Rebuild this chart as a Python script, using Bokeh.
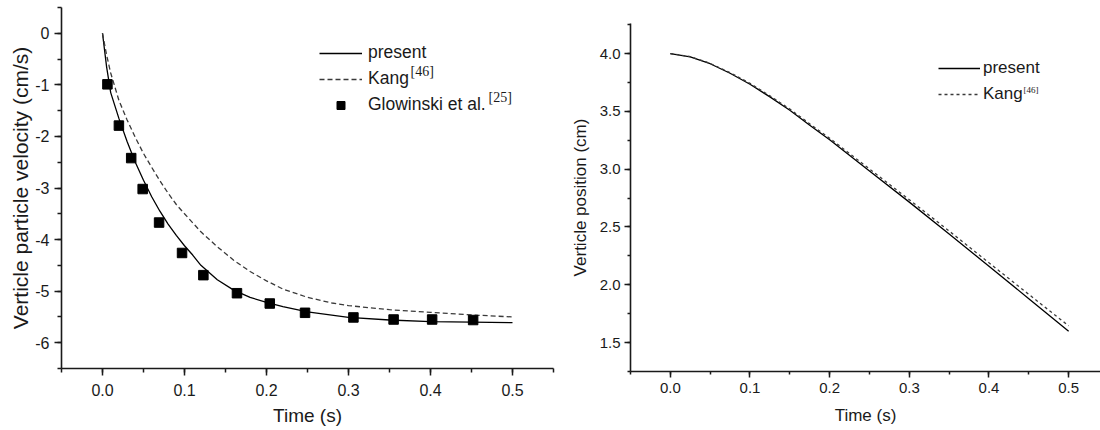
from bokeh.plotting import figure
from bokeh.models import (Range1d, SingleIntervalTicker, NumeralTickFormatter,
                          Legend, LegendItem, Label)
from bokeh.layouts import row, column
from bokeh.embed import file_html
from bokeh.resources import INLINE

# ---------------- data ----------------
# left panel: vertical particle velocity (cm/s) vs time (s)
t_present = [0.0, 0.005, 0.01, 0.02, 0.03, 0.04, 0.05, 0.06, 0.07, 0.08, 0.09, 0.10,
             0.11, 0.12, 0.14, 0.16, 0.18, 0.20, 0.22, 0.25, 0.30, 0.35, 0.40, 0.45, 0.50]
v_present = [0.0, -0.65, -1.15, -1.65, -2.10, -2.50, -2.85, -3.17, -3.45, -3.70, -3.92, -4.12,
             -4.30, -4.50, -4.78, -4.98, -5.12, -5.22, -5.30, -5.40, -5.51, -5.56, -5.59, -5.60, -5.61]

t_kang = [0.0, 0.005, 0.01, 0.02, 0.03, 0.04, 0.05, 0.06, 0.07, 0.08, 0.09, 0.10,
          0.12, 0.14, 0.16, 0.18, 0.20, 0.22, 0.25, 0.28, 0.30, 0.35, 0.40, 0.45, 0.50]
v_kang = [0.0, -0.42, -0.77, -1.30, -1.68, -2.02, -2.33, -2.60, -2.86, -3.10, -3.32, -3.50,
          -3.85, -4.14, -4.40, -4.62, -4.80, -4.96, -5.12, -5.23, -5.28, -5.36, -5.41, -5.46, -5.50]

t_glow = [0.006, 0.020, 0.035, 0.049, 0.069, 0.097, 0.123, 0.164, 0.204, 0.247,
          0.306, 0.355, 0.402, 0.452]
v_glow = [-0.99, -1.79, -2.42, -3.02, -3.67, -4.26, -4.69, -5.04, -5.24, -5.42,
          -5.51, -5.55, -5.55, -5.56]

# right panel: vertical position (cm) vs time (s)
t_pos = [0.0, 0.025, 0.05, 0.075, 0.10, 0.125, 0.15, 0.175, 0.20, 0.25, 0.30, 0.35, 0.40, 0.45, 0.50]
pos_present = [4.0, 3.972, 3.912, 3.830, 3.735, 3.625, 3.510, 3.380, 3.255, 2.985, 2.715,
               2.440, 2.160, 1.880, 1.598]
pos_kang = [4.0, 3.974, 3.915, 3.835, 3.742, 3.634, 3.520, 3.392, 3.268, 3.002, 2.736,
            2.465, 2.190, 1.917, 1.645]

x_label = "Time (s)"
y_label_left = "Verticle particle velocity (cm/s)"
y_label_right = "Verticle position (cm)"

FONT = "Liberation Sans"
INK = "#1a1a1a"


def style_axes(p, tick_size, label_size, maj_out, min_out, lab_standoff, ax_standoff):
    p.xgrid.visible = False
    p.ygrid.visible = False
    p.outline_line_color = None
    for ax in (p.xaxis[0], p.yaxis[0]):
        ax.axis_line_color = INK
        ax.axis_line_width = 1.6
        ax.major_tick_line_color = INK
        ax.minor_tick_line_color = INK
        ax.major_tick_line_width = 1.5
        ax.minor_tick_line_width = 1.5
        ax.major_tick_in = 0
        ax.major_tick_out = maj_out
        ax.minor_tick_in = 0
        ax.minor_tick_out = min_out
        ax.major_label_text_font = FONT
        ax.major_label_text_font_size = tick_size
        ax.major_label_text_color = INK
        ax.major_label_standoff = lab_standoff
        ax.axis_label_text_font = FONT
        ax.axis_label_text_font_style = "normal"
        ax.axis_label_text_font_size = label_size
        ax.axis_label_text_color = INK
        ax.axis_label_standoff = ax_standoff


def sup(x, y, text, size):
    return Label(x=x, y=y, x_units="screen", y_units="screen", text=text, level="overlay",
                 text_font="Liberation Serif", text_font_size=size, text_color=INK,
                 text_baseline="middle", text_align="left")


# ---------------- left figure ----------------
p1 = figure(width=564, height=430, x_range=Range1d(-0.05, 0.55), y_range=Range1d(-6.5, 0.5),
            output_backend="svg", toolbar_location=None, title=None,
            min_border_left=61, min_border_right=11, min_border_top=7, min_border_bottom=62)
p1.background_fill_color = "white"
p1.border_fill_color = "white"
style_axes(p1, "16px", "19px", 7, 4, 8, 6)
p1.xaxis[0].ticker = SingleIntervalTicker(interval=0.1, num_minor_ticks=2)
p1.xaxis[0].formatter = NumeralTickFormatter(format="0.0")
p1.yaxis[0].ticker = SingleIntervalTicker(interval=1, num_minor_ticks=2)
p1.yaxis[0].formatter = NumeralTickFormatter(format="0")
p1.yaxis[0].major_label_standoff = 5
p1.xaxis[0].axis_label = x_label
p1.yaxis[0].axis_label = y_label_left
p1.yaxis[0].axis_label_text_font_size = "21px"
p1.yaxis[0].axis_label_standoff = 0

r_pres = p1.line(t_present, v_present, line_color="black", line_width=1.3)
r_kang = p1.line(t_kang, v_kang, line_color="#3a3a3a", line_width=1.3, line_dash="5 3")
r_glow = p1.scatter(t_glow, v_glow, marker="square", size=9.5, fill_color="black", line_color="black")

leg1 = Legend(items=[LegendItem(label="present", renderers=[r_pres]),
                     LegendItem(label="Kang", renderers=[r_kang]),
                     LegendItem(label="Glowinski et al.", renderers=[r_glow])],
              location=(258, 253), glyph_width=43, glyph_height=20, label_height=20,
              spacing=5, padding=0, margin=0, label_standoff=6,
              border_line_color=None, background_fill_alpha=0.0,
              label_text_font=FONT, label_text_font_size="17.5px", label_text_color=INK)
p1.add_layout(leg1, "center")
p1.add_layout(sup(349, 297, "[46]", "14px"))
p1.add_layout(sup(427, 271, "[25]", "14px"))

# ---------------- right figure ----------------
p2 = figure(width=536, height=430, x_range=Range1d(-0.05, 0.54), y_range=Range1d(1.25, 4.26),
            output_backend="svg", toolbar_location=None, title=None,
            min_border_left=66, min_border_right=0, min_border_top=23, min_border_bottom=59)
p2.background_fill_color = "white"
p2.border_fill_color = "white"
style_axes(p2, "15px", "17px", 6, 3, 5, 10)
p2.yaxis[0].major_label_standoff = 4
p2.xaxis[0].ticker = SingleIntervalTicker(interval=0.1, num_minor_ticks=2)
p2.xaxis[0].formatter = NumeralTickFormatter(format="0.0")
p2.yaxis[0].ticker = SingleIntervalTicker(interval=0.5, num_minor_ticks=2)
p2.yaxis[0].formatter = NumeralTickFormatter(format="0.0")
p2.xaxis[0].axis_label = x_label
p2.yaxis[0].axis_label = y_label_right
p2.yaxis[0].axis_label_standoff = 7

r2_pres = p2.line(t_pos, pos_present, line_color="black", line_width=1.3)
r2_kang = p2.line(t_pos, pos_kang, line_color="#3a3a3a", line_width=1.3, line_dash="3 3")

leg2 = Legend(items=[LegendItem(label="present", renderers=[r2_pres]),
                     LegendItem(label="Kang", renderers=[r2_kang])],
              location=(308, 267), glyph_width=42, glyph_height=20, label_height=20,
              spacing=6, padding=0, margin=0, label_standoff=3,
              border_line_color=None, background_fill_alpha=0.0,
              label_text_font=FONT, label_text_font_size="17px", label_text_color=INK)
p2.add_layout(leg2, "center")
p2.add_layout(sup(393, 282, "[46]", "9px"))

layout = row(column(p1), column(p2))
open("out.html", "w").write(file_html(layout, INLINE))
